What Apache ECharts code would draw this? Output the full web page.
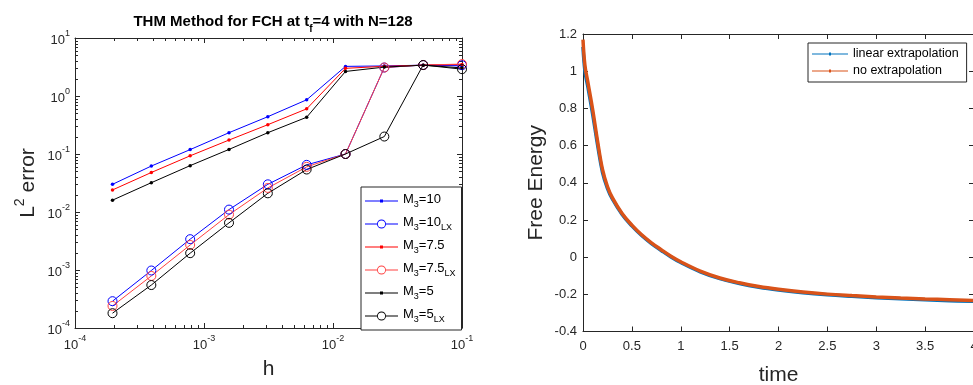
<!DOCTYPE html>
<html>
<head>
<meta charset="utf-8">
<script src="https://cdn.jsdelivr.net/npm/echarts@6/dist/echarts.min.js"></script>
<style>
  html, body { margin: 0; padding: 0; background: #fff; }
  #chart { width: 973px; height: 385px; }
</style>
</head>
<body>
<div id="chart"></div>
<script>
/* ── left panel: L2 error vs h ── */
const H = [1.953125e-4, 3.90625e-4, 7.8125e-4, 1.5625e-3, 3.125e-3, 6.25e-3, 0.0125, 0.025, 0.05, 0.1];
const M10 = [0.030, 0.062, 0.119, 0.233, 0.44, 0.86, 3.24, 3.3, 3.4, 3.3];
const M10_LX = [2.9e-4, 9.8e-4, 3.4e-3, 0.011, 0.030, 0.065, 0.1, 3.1, 3.42, 3.4];
const M75 = [0.024, 0.048, 0.093, 0.174, 0.32, 0.6, 3.0, 3.25, 3.4, 3.5];
const M75_LX = [2.4e-4, 7.9e-4, 2.7e-3, 9e-3, 0.026, 0.06, 0.1, 3.1, 3.42, 3.55];
const M5 = [0.016, 0.032, 0.063, 0.12, 0.233, 0.43, 2.65, 3.15, 3.4, 3.05];
const M5_LX = [1.8e-4, 5.5e-4, 1.95e-3, 6.5e-3, 0.021, 0.054, 0.1, 0.2, 3.42, 2.9];

const LEFT_SERIES = [
  { name: "M3=10", sub: "", data: M10, color: "#0000ff", circle: false },
  { name: "M3=10LX", sub: "LX", data: M10_LX, color: "#0000ff", circle: true },
  { name: "M3=7.5", sub: "", data: M75, color: "#ff0000", circle: false },
  { name: "M3=7.5LX", sub: "LX", data: M75_LX, color: "#ff4040", circle: true },
  { name: "M3=5", sub: "", data: M5, color: "#000000", circle: false },
  { name: "M3=5LX", sub: "LX", data: M5_LX, color: "#000000", circle: true },
];

// minor tick marks of the log axes (2..9 within each decade)
const MANTISSA = [2, 3, 4, 5, 6, 7, 8, 9];
const X_DECADES = [1e-4, 1e-3, 1e-2];
const Y_DECADES = [1e-4, 1e-3, 1e-2, 1e-1, 1];

/* ── right panel: free energy vs time ── */
const T = [0, 0.02, 0.05, 0.1, 0.15, 0.2, 0.25, 0.3, 0.4, 0.5, 0.6, 0.7, 0.8, 0.9, 1.0,
  1.2, 1.4, 1.6, 1.8, 2.0, 2.25, 2.5, 2.75, 3.0, 3.25, 3.5, 3.75, 4.0];
const NO_EXT = [1.17, 1.03, 0.94, 0.79, 0.62, 0.47, 0.38, 0.32, 0.235, 0.172, 0.12, 0.077, 0.04, 0.005, -0.025,
  -0.075, -0.112, -0.138, -0.158, -0.173, -0.188, -0.199, -0.207, -0.214, -0.22, -0.225, -0.229, -0.233];
const LIN_EXT = [1.13, 1.0, 0.915, 0.765, 0.6, 0.455, 0.37, 0.313, 0.23, 0.168, 0.116, 0.073, 0.036, 0.001, -0.029,
  -0.079, -0.116, -0.142, -0.162, -0.177, -0.192, -0.203, -0.211, -0.218, -0.224, -0.229, -0.234, -0.238];

const AX = "#262626";
const FONT = "Liberation Sans, Arial, Helvetica, sans-serif";

// legend icons: line + dot, line + ring
const DOT_ICON = "path://M0,4.5H33V5.5H0Z M15,3.5H18V6.5H15Z";
const RING_ICON = "path://M0,4.5H12V5.5H0Z M21,4.5H33V5.5H21Z " +
  "M12,5A4.5,4.5 0 1,1 21,5A4.5,4.5 0 1,1 12,5Z M12.9,5A3.6,3.6 0 1,0 20.1,5A3.6,3.6 0 1,0 12.9,5Z";
const DOT_ICON_R = "path://M0,4.5H36V5.5H0Z M17,3.5H19V6.5H17Z";

const powLabel = (v) => `{b|10}{e|${Math.round(Math.log10(v))}}`;
const powRich = {
  b: { fontSize: 13, lineHeight: 18, color: AX, fontFamily: FONT, verticalAlign: "bottom" },
  e: { fontSize: 9, lineHeight: 10, color: AX, fontFamily: FONT, verticalAlign: "top" },
};

function boxAxis(extra) {
  return Object.assign({
    axisLine: { show: true, onZero: false, lineStyle: { color: AX, width: 1 } },
    axisTick: { show: true, inside: true, length: 5, lineStyle: { color: AX } },
    splitLine: { show: false },
  }, extra);
}

const minorX = [];
X_DECADES.forEach((d) => MANTISSA.forEach((m) => minorX.push([m * d, "x"])));
const minorY = [];
Y_DECADES.forEach((d) => MANTISSA.forEach((m) => minorY.push([m * d, "y"])));
const minorTicks = minorX.concat(minorY);

const X_MIN = 1e-4, X_MAX = 0.1, Y_MIN = 1e-4, Y_MAX = 10;
const MINOR_LEN = 3;

function renderMinorTick(params, api) {
  const v = api.value(0);
  const isX = minorTicks[params.dataIndex][1] === "x";
  const style = { stroke: AX, lineWidth: 1 };
  if (isX) {
    const b = api.coord([v, Y_MIN]);
    const t = api.coord([v, Y_MAX]);
    const x = Math.round(b[0]) + 0.5;
    return {
      type: "group",
      children: [
        { type: "line", shape: { x1: x, y1: b[1], x2: x, y2: b[1] - MINOR_LEN }, style },
        { type: "line", shape: { x1: x, y1: t[1], x2: x, y2: t[1] + MINOR_LEN }, style },
      ],
    };
  }
  const l = api.coord([X_MIN, v]);
  const r = api.coord([X_MAX, v]);
  const y = Math.round(l[1]) + 0.5;
  return {
    type: "group",
    children: [
      { type: "line", shape: { x1: l[0], y1: y, x2: l[0] + MINOR_LEN, y2: y }, style },
      { type: "line", shape: { x1: r[0], y1: y, x2: r[0] - MINOR_LEN, y2: y }, style },
    ],
  };
}

const chart = echarts.init(document.getElementById("chart"), null, { renderer: "canvas" });

const option = {
  animation: false,
  backgroundColor: "#fff",
  textStyle: { fontFamily: FONT },
  title: {
    text: "{a|THM Method for FCH at t}{s|f}{a|=4 with N=128}",
    left: 268,
    top: 9,
    textAlign: "center",
    textStyle: {
      rich: {
        a: { fontSize: 15, fontWeight: "bold", color: "#000", fontFamily: FONT, lineHeight: 20, verticalAlign: "top" },
        s: { fontSize: 10, fontWeight: "bold", color: "#000", fontFamily: FONT, lineHeight: 10, verticalAlign: "bottom" },
      },
    },
  },
  grid: [
    { left: 75, top: 38, width: 387, height: 290, outerBoundsMode: "none", containLabel: false },
    { left: 583, top: 34, width: 391, height: 297.5, outerBoundsMode: "none", containLabel: false },
  ],
  legend: [
    {
      orient: "vertical",
      left: 361,
      top: 187,
      padding: [6, 6, 6, 4],
      itemWidth: 33,
      itemHeight: 10,
      itemGap: 7,
      borderColor: AX,
      borderWidth: 1,
      backgroundColor: "#fff",
      symbolKeepAspect: true,
      itemStyle: { borderWidth: 0 },
      data: LEFT_SERIES.map((s) => ({
        name: s.name,
        icon: s.circle ? RING_ICON : DOT_ICON,
        itemStyle: { color: s.color, borderWidth: 0 },
      })),
      formatter: (name) => {
        const s = LEFT_SERIES.find((x) => x.name === name);
        const val = name.slice(2, s.sub ? name.length - 2 : name.length);
        return `{m|M}{s|3}{m|${val}}` + (s.sub ? `{s|${s.sub}}` : "");
      },
      textStyle: {
        rich: {
          m: { fontSize: 13, lineHeight: 16, color: "#000", fontFamily: FONT, verticalAlign: "top" },
          s: { fontSize: 9, lineHeight: 10, color: "#000", fontFamily: FONT, verticalAlign: "bottom" },
        },
      },
    },
    {
      orient: "vertical",
      left: 808,
      top: 43,
      padding: [4, 8, 4, 4],
      itemWidth: 36,
      itemHeight: 10,
      itemGap: 3,
      borderColor: AX,
      borderWidth: 1,
      backgroundColor: "#fff",
      symbolKeepAspect: true,
      itemStyle: { borderWidth: 0 },
      data: [
        { name: "linear extrapolation", icon: DOT_ICON_R, itemStyle: { color: "#0072bd", borderWidth: 0 } },
        { name: "no extrapolation", icon: DOT_ICON_R, itemStyle: { color: "#d95319", borderWidth: 0 } },
      ],
      textStyle: { fontSize: 12.5, lineHeight: 14, color: "#000", fontFamily: FONT },
    },
  ],
  xAxis: [
    boxAxis({
      gridIndex: 0, type: "log", logBase: 10, min: X_MIN, max: X_MAX, position: "bottom",
      axisLabel: { formatter: powLabel, rich: powRich, margin: 6 },
      name: "h", nameLocation: "middle", nameGap: 31,
      nameTextStyle: { fontSize: 21, color: AX, fontFamily: FONT },
    }),
    boxAxis({
      gridIndex: 0, type: "log", logBase: 10, min: X_MIN, max: X_MAX, position: "top",
      axisLabel: { show: false },
    }),
    boxAxis({
      gridIndex: 1, type: "value", min: 0, max: 4, interval: 0.5, position: "bottom",
      axisLabel: { fontSize: 13, color: AX, margin: 8, fontFamily: FONT },
      name: "time", nameLocation: "middle", nameGap: 33,
      nameTextStyle: { fontSize: 21, color: AX, fontFamily: FONT },
    }),
    boxAxis({
      gridIndex: 1, type: "value", min: 0, max: 4, interval: 0.5, position: "top",
      axisLabel: { show: false },
    }),
  ],
  yAxis: [
    boxAxis({
      gridIndex: 0, type: "log", logBase: 10, min: Y_MIN, max: Y_MAX, position: "left",
      axisLabel: { formatter: powLabel, rich: powRich, margin: 5 },
      name: "{a|L}{p|2}{a| error}", nameLocation: "middle", nameGap: 36,
      nameTextStyle: {
        rich: {
          a: { fontSize: 21, lineHeight: 26, color: AX, fontFamily: FONT, verticalAlign: "bottom" },
          p: { fontSize: 14, lineHeight: 14, color: AX, fontFamily: FONT, verticalAlign: "top" },
        },
      },
    }),
    boxAxis({
      gridIndex: 0, type: "log", logBase: 10, min: Y_MIN, max: Y_MAX, position: "right",
      axisLabel: { show: false },
    }),
    boxAxis({
      gridIndex: 1, type: "value", min: -0.4, max: 1.2, interval: 0.2, position: "left",
      axisLabel: { fontSize: 13, color: AX, margin: 6, fontFamily: FONT },
      name: "Free Energy", nameLocation: "middle", nameGap: 36,
      nameTextStyle: { fontSize: 21, color: AX, fontFamily: FONT },
    }),
    boxAxis({
      gridIndex: 1, type: "value", min: -0.4, max: 1.2, interval: 0.2, position: "right",
      axisLabel: { show: false },
    }),
  ],
  series: [
    {
      type: "custom",
      xAxisIndex: 0,
      yAxisIndex: 0,
      data: minorTicks.map((m) => [m[0], m[0]]),
      renderItem: renderMinorTick,
      silent: true,
      clip: false,
      z: 1,
    },
    ...LEFT_SERIES.map((s) => ({
      name: s.name,
      type: "line",
      xAxisIndex: 0,
      yAxisIndex: 0,
      data: H.map((h, i) => [h, s.data[i]]),
      symbol: "circle",
      symbolSize: s.circle ? 9 : 3.5,
      showAllSymbol: true,
      lineStyle: { color: s.color, width: 1 },
      itemStyle: s.circle
        ? { color: "rgba(0,0,0,0)", borderColor: s.color, borderWidth: 1 }
        : { color: s.color, borderWidth: 0 },
      emphasis: { disabled: true },
    })),
    {
      name: "linear extrapolation",
      type: "line",
      xAxisIndex: 2,
      yAxisIndex: 2,
      data: T.map((t, i) => [t, LIN_EXT[i]]),
      showSymbol: false,
      smooth: 0.4,
      lineStyle: { color: "#0072bd", width: 3.5 },
      itemStyle: { color: "#0072bd" },
    },
    {
      name: "no extrapolation",
      type: "line",
      xAxisIndex: 2,
      yAxisIndex: 2,
      data: T.map((t, i) => [t, NO_EXT[i]]),
      showSymbol: false,
      smooth: 0.4,
      lineStyle: { color: "#d95319", width: 3.5 },
      itemStyle: { color: "#d95319" },
    },
  ],
};

chart.setOption(option);
</script>
</body>
</html>
